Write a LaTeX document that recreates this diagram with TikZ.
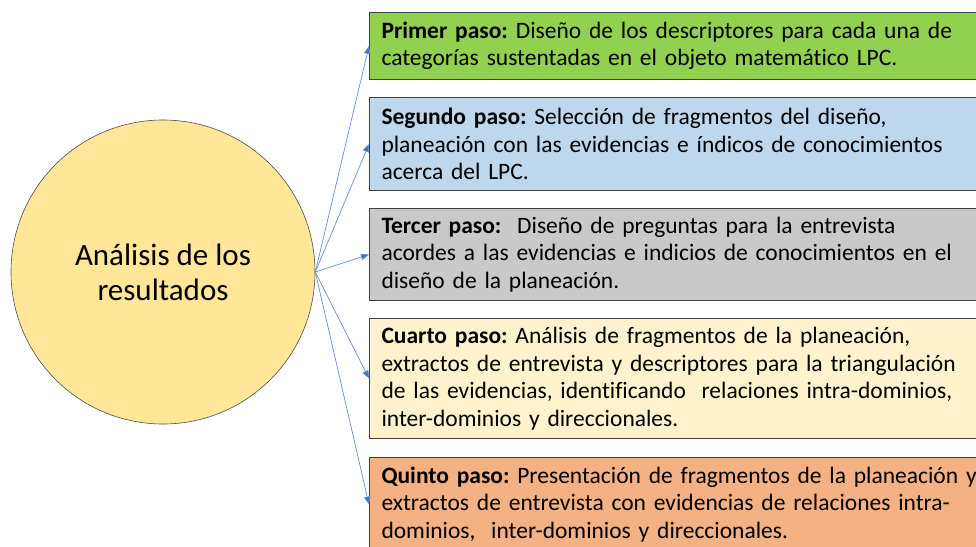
\documentclass[tikz,border=0pt]{standalone}
\usepackage{fontspec}
\setmainfont{Carlito}[Ligatures=NoCommon]
\usetikzlibrary{arrows.meta}
\definecolor{cgreen}{HTML}{92D050}
\definecolor{cblue}{HTML}{BDD7EE}
\definecolor{cgrey}{HTML}{C9C9C9}
\definecolor{cyell}{HTML}{FFF2CC}
\definecolor{corange}{HTML}{F4B183}
\definecolor{ccirc}{HTML}{FFE699}
\definecolor{carrow}{HTML}{4472C4}
\tikzset{
  stepbox/.style={draw=black!75, line width=1pt, anchor=north west, align=left,
    text width=640pt, inner xsep=12pt, inner ysep=0pt,
    font=\fontsize{23.5}{27.5}\selectfont},
  conn/.style={draw=carrow!80, line width=0.7pt, -{Triangle[length=8pt,width=6.5pt,fill=carrow]}},
}
\begin{document}
\frenchspacing
\begin{tikzpicture}[x=1pt,y=-1pt]
\useasboundingbox (0,0) rectangle (976,546);
\clip (0,0) rectangle (976,546);
\node[circle, draw=black!70, line width=0.6pt, fill=ccirc, minimum size=304pt, inner sep=0pt,
  align=center, font=\fontsize{31}{35}\selectfont] (c) at (163,272) {Análisis de los\\resultados};
\node[stepbox, fill=cgreen, minimum height=67pt] (b1) at (369,12)
  {\textbf{Primer paso:} Diseño de los descriptores para cada una de\\categorías sustentadas en el objeto matemático LPC.};
\node[stepbox, fill=cblue, minimum height=93pt] (b2) at (369,97)
  {\textbf{Segundo paso:} Selección de fragmentos del diseño,\\planeación con las evidencias e índicos de conocimientos\\acerca del LPC.};
\node[stepbox, fill=cgrey, minimum height=92pt] (b3) at (369,208)
  {\textbf{Tercer paso:}\ \ Diseño de preguntas para la entrevista\\acordes a las evidencias e indicios de conocimientos en el\\diseño de la planeación.};
\node[stepbox, fill=cyell, minimum height=120pt] (b4) at (369,318)
  {\textbf{Cuarto paso:} Análisis de fragmentos de la planeación,\\extractos de entrevista y descriptores para la triangulación\\de las evidencias, identificando\ \ relaciones intra-dominios,\\inter-dominios y direccionales.};
\node[stepbox, fill=corange, minimum height=94pt] (b5) at (369,457)
  {\textbf{Quinto paso:} Presentación de fragmentos de la planeación y\\extractos de entrevista con evidencias de relaciones intra-\\dominios,\ \ inter-dominios y direccionales.};
\foreach \b in {b1,b2,b3,b4,b5} \draw[conn] (c.east) -- (\b.west);
\end{tikzpicture}
\end{document}
